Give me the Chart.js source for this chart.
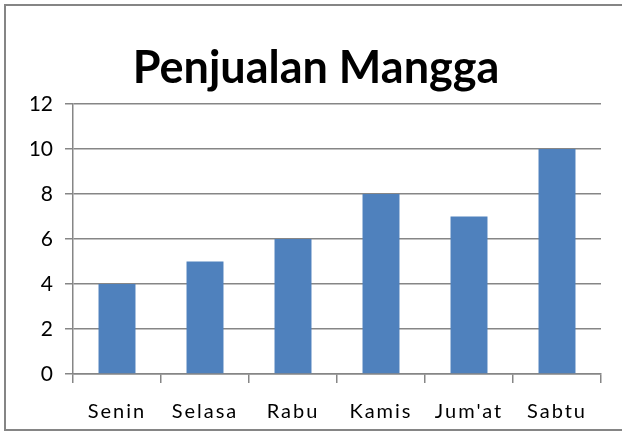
<!DOCTYPE html>
<html>
<head>
<meta charset="utf-8">
<script src="https://cdn.jsdelivr.net/npm/chart.js@4"></script>
<style>
  html, body { margin: 0; padding: 0; background: #fff; }
  #wrap { position: relative; width: 622px; height: 435px; overflow: hidden; }
  #frame {
    position: absolute; left: 4px; top: 4px; width: 640px; height: 427px;
    border: 2px solid #858585; box-sizing: border-box;
  }
  canvas { position: absolute; left: 0; top: 0; }
</style>
</head>
<body>
<div id="wrap">
  <div id="frame"></div>
  <canvas id="chart" width="622" height="435"></canvas>
</div>
<script>
// Data penjualan mangga per hari
const hari = ['Senin', 'Selasa', 'Rabu', 'Kamis', "Jum'at", 'Sabtu'];
const penjualan = [4, 5, 6, 8, 7, 10];
const yMin = 0;
const yMax = 12;
const yStep = 2;

const fontFamily = 'Lato, "Open Sans", sans-serif';
const gridColor = '#868686';

// Label sumbu X di gambar asli agak renggang, jadi beri jarak antar huruf
const spacedLabels = {
    id: 'spacedLabels',
    beforeLayout(chart) {
        const s = chart.scales.x;
        if (!s || s._spaced) return;
        const orig = s.drawLabels.bind(s);
        s.drawLabels = function (area) {
            const c = this.ctx;
            c.save();
            c.letterSpacing = '2px';
            orig(area);
            c.restore();
        };
        s._spaced = true;
    }
};

const ctx = document.getElementById('chart').getContext('2d');
new Chart(ctx, {
    type: 'bar',
    data: {
        labels: hari,
        datasets: [{
            label: 'Penjualan',
            data: penjualan,
            backgroundColor: '#4F81BD',
            borderWidth: 0,
            categoryPercentage: 1,
            barPercentage: 0.42
        }]
    },
    plugins: [spacedLabels],
    options: {
        responsive: false,
        animation: false,
        devicePixelRatio: 1,
        layout: { padding: { left: 31, right: 21, top: 5, bottom: 0 } },
        plugins: {
            legend: { display: false },
            tooltip: { enabled: false },
            title: {
                display: true,
                text: 'Penjualan Mangga',
                color: '#000',
                font: { family: fontFamily, size: 45, weight: 'bold', lineHeight: 1.2 },
                padding: { top: 36, bottom: 9 }
            }
        },
        scales: {
            x: {
                grid: {
                    offset: true,
                    drawOnChartArea: false,
                    drawTicks: true,
                    tickLength: 9,
                    color: gridColor,
                    lineWidth: 1.5
                },
                border: { color: gridColor, width: 1.5 },
                ticks: {
                    color: '#000',
                    padding: 17,
                    font: { family: fontFamily, size: 20 }
                },
                afterFit: s => { s.height = 61; }
            },
            y: {
                min: yMin,
                max: yMax,
                grid: {
                    color: gridColor,
                    lineWidth: 1.5,
                    tickLength: 8
                },
                border: { color: gridColor, width: 1.5 },
                ticks: {
                    stepSize: yStep,
                    color: '#000',
                    padding: 12,
                    font: { family: fontFamily, size: 21 }
                },
                afterFit: s => { s.width = 42; }
            }
        }
    }
});
</script>
</body>
</html>
